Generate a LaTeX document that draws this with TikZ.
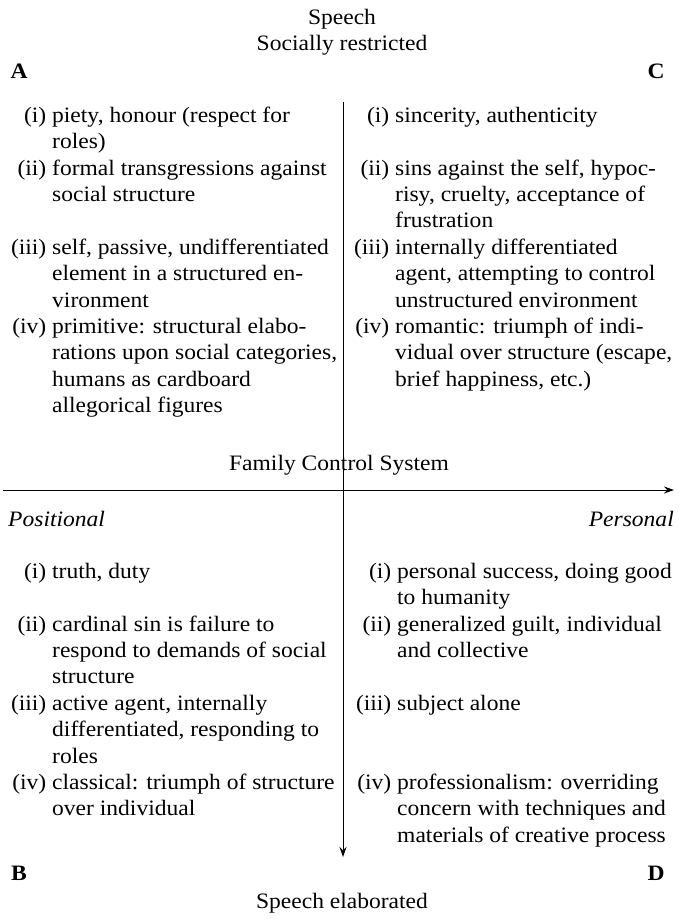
\documentclass[tikz,border=0pt]{standalone}
\usepackage{fontspec}
\setmainfont{Liberation Serif}[FakeStretch=1.07]
\usetikzlibrary{arrows.meta}

\begin{document}
\begin{tikzpicture}[
  x=1pt,y=-1pt,
  font=\fontsize{22}{26.4}\selectfont,
  >={Stealth[length=10pt,width=7pt]},
  entry/.style={anchor=north west,inner sep=0pt,align=left,yshift=18.48pt},
  corner/.style={font=\fontsize{22}{26.4}\selectfont\bfseries,inner sep=0pt,anchor=base},
  heading/.style={inner sep=0pt,anchor=base},
  side/.style={font=\fontsize{22}{26.4}\selectfont\itshape,inner sep=0pt,anchor=base},
  axis/.style={->,line width=1pt}
]
\useasboundingbox (0,0) rectangle (684,922);
% headings and corners
\node[heading] (speech) at (342,24) {Speech};
\node[heading] (restr) at (342,50) {Socially restricted};
\node[corner] (A) at (19,78) {A};
\node[corner] (C) at (656,78) {C};
\node[corner] (B) at (19,880) {B};
\node[corner] (D) at (656,880) {D};
\node[heading] (elab) at (342,908) {Speech elaborated};
% axes
\coordinate (vtop) at (343,102);
\coordinate (vbot) at (343,857);
\coordinate (hleft) at (3,490);
\coordinate (hright) at (674,490);
\node[heading] (fcs) at (339,470) {Family Control System};
\node[side,anchor=base west] (pos) at (8,526) {Positional};
\node[side,anchor=base east] (pers) at (674,526) {Personal};
\draw[axis] (hleft) -- (hright);
\draw[axis] (vtop) -- (vbot);
% quadrant A
\node[entry] (a1) at (52,122) {\strut\llap{(i)\ }piety, honour (respect for\\roles)};
\node[entry] (a2) at (52,174.8) {\strut\llap{(ii)\ }formal transgressions against\\social structure};
\node[entry] (a3) at (52,254) {\strut\llap{(iii)\ }self, passive, undifferentiated\\element in a structured en-\\vironment};
\node[entry] (a4) at (52,333.2) {\strut\llap{(iv)\ }primitive: structural elabo-\\rations upon social categories,\\humans as cardboard\\allegorical figures};
% quadrant C
\node[entry] (c1) at (395,122) {\strut\llap{(i)\ }sincerity, authenticity};
\node[entry] (c2) at (395,174.8) {\strut\llap{(ii)\ }sins against the self, hypoc-\\risy, cruelty, acceptance of\\frustration};
\node[entry] (c3) at (395,254) {\strut\llap{(iii)\ }internally differentiated\\agent, attempting to control\\unstructured environment};
\node[entry] (c4) at (395,333.2) {\strut\llap{(iv)\ }romantic: triumph of indi-\\vidual over structure (escape,\\brief happiness, etc.)};
% quadrant B
\node[entry] (b1) at (52,578) {\strut\llap{(i)\ }truth, duty};
\node[entry] (b2) at (52,630.8) {\strut\llap{(ii)\ }cardinal sin is failure to\\respond to demands of social\\structure};
\node[entry] (b3) at (52,710) {\strut\llap{(iii)\ }active agent, internally\\differentiated, responding to\\roles};
\node[entry] (b4) at (52,789.2) {\strut\llap{(iv)\ }classical: triumph of structure\\over individual};
% quadrant D
\node[entry] (d1) at (397,578) {\strut\llap{(i)\ }personal success, doing good\\to humanity};
\node[entry] (d2) at (397,630.8) {\strut\llap{(ii)\ }generalized guilt, individual\\and collective};
\node[entry] (d3) at (397,710) {\strut\llap{(iii)\ }subject alone};
\node[entry] (d4) at (397,789.2) {\strut\llap{(iv)\ }professionalism: overriding\\concern with techniques and\\materials of creative process};
\end{tikzpicture}
\end{document}
